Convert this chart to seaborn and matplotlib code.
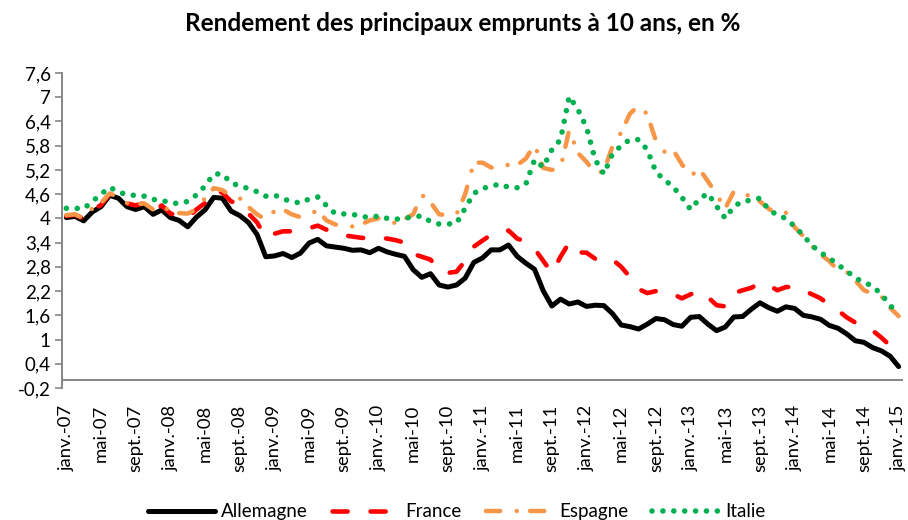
import matplotlib
matplotlib.use("Agg")
import matplotlib.pyplot as plt
import numpy as np
import pandas as pd
import seaborn as sns

# Monthly 10-year yields, janv. 2007 -> janv. 2015
allemagne = [
    4.02, 4.05, 3.94, 4.16, 4.29, 4.57, 4.50, 4.29, 4.22, 4.29, 4.10, 4.21,
    4.02, 3.95, 3.79, 4.03, 4.21, 4.52, 4.50, 4.18, 4.07, 3.90, 3.60, 3.05,
    3.07, 3.13, 3.03, 3.14, 3.39, 3.48, 3.32, 3.29, 3.26, 3.21, 3.22, 3.15,
    3.26, 3.17, 3.11, 3.06, 2.73, 2.54, 2.63, 2.35, 2.30, 2.35, 2.52, 2.91,
    3.02, 3.22, 3.22, 3.34, 3.06, 2.89, 2.74, 2.21, 1.83, 2.00, 1.88, 1.93,
    1.82, 1.85, 1.84, 1.64, 1.36, 1.32, 1.26, 1.38, 1.52, 1.49, 1.37, 1.33,
    1.55, 1.57, 1.38, 1.22, 1.31, 1.56, 1.57, 1.75, 1.91, 1.79, 1.70, 1.81,
    1.77, 1.60, 1.56, 1.50, 1.35, 1.28, 1.14, 0.97, 0.93, 0.80, 0.72, 0.59,
    0.33,
]
france = [
    4.06, 4.09, 3.99, 4.21, 4.33, 4.61, 4.56, 4.37, 4.32, 4.38, 4.18, 4.32,
    4.12, 4.06, 4.02, 4.22, 4.38, 4.68, 4.64, 4.42, 4.36, 4.12, 3.90, 3.52,
    3.62, 3.68, 3.68, 3.70, 3.76, 3.82, 3.72, 3.62, 3.58, 3.55, 3.52, 3.50,
    3.52, 3.50, 3.46, 3.40, 3.12, 3.05, 2.98, 2.72, 2.65, 2.68, 2.95, 3.30,
    3.45, 3.60, 3.62, 3.70, 3.50, 3.42, 3.25, 2.95, 2.65, 3.05, 3.40, 3.16,
    3.15, 3.00, 2.93, 2.98, 2.80, 2.55, 2.25, 2.15, 2.20, 2.20, 2.12, 2.02,
    2.12, 2.20, 2.05, 1.85, 1.82, 2.15, 2.22, 2.28, 2.40, 2.35, 2.22, 2.30,
    2.30, 2.22, 2.12, 2.02, 1.86, 1.72, 1.55, 1.42, 1.32, 1.22, 1.05, 0.85,
    0.62,
]
espagne = [
    4.08, 4.10, 4.00, 4.25, 4.38, 4.62, 4.52, 4.38, 4.35, 4.37, 4.22, 4.33,
    4.17, 4.13, 4.12, 4.22, 4.50, 4.75, 4.70, 4.55, 4.50, 4.28, 4.10, 3.97,
    4.18, 4.22, 4.10, 4.03, 4.10, 4.20, 3.95, 3.85, 3.80, 3.80, 3.85, 3.95,
    4.00, 3.95, 3.88, 3.98, 4.10, 4.58, 4.40, 4.10, 4.08, 4.10, 4.60, 5.38,
    5.38, 5.26, 5.25, 5.33, 5.32, 5.48, 5.83, 5.25, 5.20, 5.25, 6.19, 5.62,
    5.40, 5.11, 5.17, 5.79, 6.13, 6.59, 6.79, 6.58, 5.92, 5.65, 5.69, 5.34,
    5.05, 5.22, 4.92, 4.59, 4.25, 4.67, 4.66, 4.51, 4.42, 4.24, 4.11, 4.14,
    3.78, 3.56, 3.31, 3.11, 2.94, 2.72, 2.68, 2.46, 2.22, 2.14, 2.07, 1.79,
    1.58,
]
italie = [
    4.25, 4.25, 4.24, 4.42, 4.60, 4.77, 4.66, 4.58, 4.57, 4.55, 4.47, 4.45,
    4.38, 4.37, 4.42, 4.58, 4.80, 5.10, 5.10, 4.88, 4.80, 4.74, 4.66, 4.55,
    4.58, 4.48, 4.42, 4.38, 4.48, 4.53, 4.32, 4.12, 4.11, 4.10, 4.05, 4.02,
    4.06, 4.00, 3.98, 4.00, 4.04, 4.06, 3.92, 3.86, 3.86, 3.88, 4.25, 4.62,
    4.74, 4.80, 4.85, 4.77, 4.76, 4.85, 5.45, 5.27, 5.70, 5.95, 7.02, 6.70,
    6.25, 5.45, 5.10, 5.60, 5.80, 5.95, 5.95, 5.70, 5.15, 4.95, 4.78, 4.52,
    4.22, 4.48, 4.62, 4.30, 4.00, 4.30, 4.42, 4.45, 4.50, 4.22, 4.08, 4.00,
    3.80, 3.58, 3.33, 3.15, 3.02, 2.85, 2.70, 2.52, 2.42, 2.32, 2.12, 1.85,
    1.62,
]

mois = ["janv.", "mai", "sept."]
tick_labels = [f"{m}-{y:02d}" for y in range(7, 15) for m in mois] + ["janv.-15"]
y_ticks = [-0.2 + 0.6 * k for k in range(14)]

months = np.arange(len(allemagne))

sns.set_style("white")
plt.rcParams["font.family"] = ["Lato", "DejaVu Sans"]
plt.rcParams["text.color"] = "black"

fig = plt.figure(figsize=(9.08, 5.2), dpi=100)
ax = fig.add_axes([62 / 908, 1 - 388 / 520, (903 - 62) / 908, (388 - 73) / 520])

series = [
    ("Allemagne", allemagne, "#000000", 3.6, "-"),
    ("France", france, "#FF0000", 3.3, (0, (3.3, 5.0))),
    ("Espagne", espagne, "#F79646", 3.2, (0, (3.2, 3.7, 0.01, 3.0))),
    ("Italie", italie, "#00B050", 4.0, (0, (0.01, 1.95))),
]
for name, vals, color, lw, ls in series:
    sns.lineplot(x=months, y=vals, ax=ax, color=color, linewidth=lw,
                 linestyle=ls, dash_capstyle="round", solid_capstyle="round",
                 solid_joinstyle="round", label=name)

ax.set_xlim(-0.5, len(months) - 0.5)
ax.set_ylim(-0.2, 7.6)
ax.axhline(0, color="#868686", linewidth=1.4, zorder=0)

ax.set_yticks(y_ticks)
ax.set_yticklabels([f"{v:.1f}".rstrip("0").rstrip(".").replace(".", ",")
                    if abs(v) > 1e-9 else "0" for v in y_ticks])
ax.set_xticks(months[::4])
ax.set_xticklabels(tick_labels, rotation=90)
ax.tick_params(axis="y", length=5, width=1.2, color="#868686", pad=3,
               labelsize=13.5, labelcolor="#000000", direction="out", left=True)
ax.tick_params(axis="x", length=0, pad=12, labelsize=13.3, labelcolor="#000000")

for side in ["top", "right", "bottom"]:
    ax.spines[side].set_visible(False)
ax.spines["left"].set_color("#868686")
ax.spines["left"].set_linewidth(1.4)
ax.set_xlabel("")
ax.set_ylabel("")

fig.text(0.51, 0.955, "Rendement des principaux emprunts à 10 ans, en %",
         ha="center", va="center", fontsize=17.5, fontweight="bold")

handles, labels = ax.get_legend_handles_labels()
ax.get_legend().remove()
fig.legend(handles, labels, loc="center", bbox_to_anchor=(0.503, 0.016),
           ncol=4, frameon=False, fontsize=13.5, handlelength=3.6,
           handletextpad=0.3, columnspacing=1.3)

fig.savefig("out.png", dpi=100)
